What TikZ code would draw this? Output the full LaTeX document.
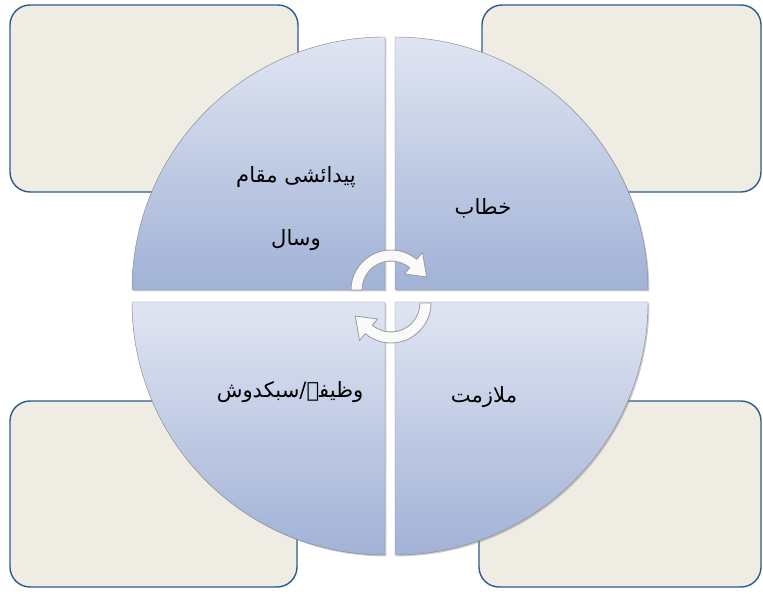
\documentclass[tikz,border=0pt]{standalone}
\usepackage{fontspec}
\newfontfamily\urdufont[Script=Arabic]{DejaVu Sans}
\TeXXeTstate=1
\usetikzlibrary{shadows}
\definecolor{boxfill}{HTML}{EFECE4}
\definecolor{boxline}{HTML}{2E5A8E}
\definecolor{quadtop}{HTML}{E0E5F2}
\definecolor{quadbot}{HTML}{A1B2D7}
\definecolor{arrowline}{HTML}{9A9A9A}
\tikzset{
  notebox/.style={draw=boxline, fill=boxfill, line width=1.2pt, rounded corners=0.6cm},
  quadrant/.style={top color=quadtop, bottom color=quadbot, draw=gray!90, line width=0.4pt,
    drop shadow={opacity=0.4, shadow xshift=1.2pt, shadow yshift=-1.2pt}},
  cyclearrow/.style={fill=gray!4, draw=arrowline, line width=0.7pt, line join=round},
  quadtext/.style={font=\urdufont\fontsize{18}{21}\selectfont, align=center, inner sep=0pt}
}
\begin{document}
\begin{tikzpicture}[x=0.03cm,y=0.03cm]
\useasboundingbox (0,0) rectangle (763,593);
% corner boxes
\draw[notebox] (10,401) rectangle (298,588);
\draw[notebox] (482,401) rectangle (761,588);
\draw[notebox] (10,6) rectangle (297,192);
\draw[notebox] (479,6) rectangle (761,192);
% quadrants
\path[quadrant] (385,303) -- (132,303) arc[start angle=180,end angle=90,radius=253] -- cycle;
\path[quadrant] (395,303) -- (395,556) arc[start angle=90,end angle=0,radius=253] -- cycle;
\path[quadrant] (385,291) -- (385,38) arc[start angle=270,end angle=180,radius=253] -- cycle;
\path[quadrant] (395,291) -- (648,291) arc[start angle=0,end angle=-90,radius=253] -- cycle;
% cycle arrows
\begin{scope}[shift={(391,303)}]
\draw[cyclearrow] (180:40) arc[start angle=180,end angle=50,radius=40] -- (50:49) -- (20:38)
  -- (50:21) -- (50:29) arc[start angle=50,end angle=180,radius=29] -- cycle;
\end{scope}
\begin{scope}[shift={(391,290)},rotate=180]
\draw[cyclearrow] (180:40) arc[start angle=180,end angle=50,radius=40] -- (50:49) -- (20:38)
  -- (50:21) -- (50:29) arc[start angle=50,end angle=180,radius=29] -- cycle;
\end{scope}
% texts
\node[quadtext] (birth) at (296,384) {\beginR پیدائشی مقام\endR\\[1.15cm]\beginR وسال\endR};
\node[quadtext] (title) at (483,385) {\beginR خطاب\endR};
\node[quadtext] (pension) at (290,201) {\beginR وظیفہ/سبکدوش\endR};
\node[quadtext] (service) at (484,196) {\beginR ملازمت\endR};
\end{tikzpicture}
\end{document}
